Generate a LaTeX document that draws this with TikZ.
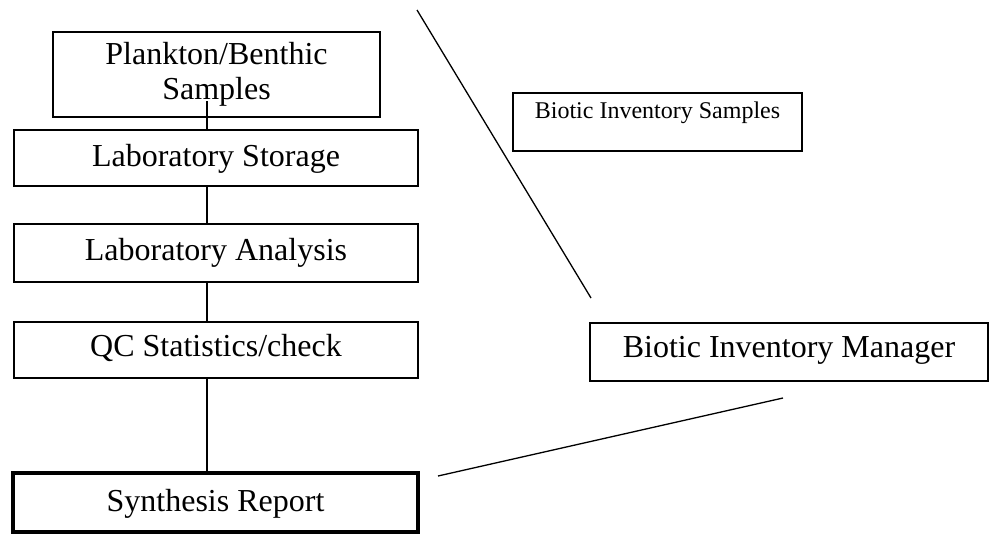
\documentclass[tikz,border=0pt]{standalone}
\usepackage{fontspec}
\setmainfont{Liberation Serif}
\begin{document}
\begin{tikzpicture}[x=1pt,y=-1pt,
    stage/.style={draw, line width=1.3pt, inner sep=0pt, outer sep=0pt, anchor=north west,
      align=center, font=\fontsize{32}{35}\selectfont},
    link/.style={line width=1.3pt}]
    \useasboundingbox (0,0) rectangle (992,533);
    % sample handling chain
    \node[stage, minimum width=327pt, minimum height=85pt] (plank) at (53,32) {Plankton/Benthic\\Samples};
    \node[stage, minimum width=404pt, minimum height=56pt, text height=36pt, text depth=20pt] (store) at (14,130) {Laboratory Storage};
    \node[stage, minimum width=404pt, minimum height=58pt, text height=36pt, text depth=22pt] (anal) at (14,224) {Laboratory Analysis};
    \node[stage, minimum width=404pt, minimum height=56pt, text height=34pt, text depth=22pt] (qc) at (14,322) {QC Statistics/check};
    \node[stage, line width=4.5pt, minimum width=405pt, minimum height=59pt, text height=38pt, text depth=21pt] (synth) at (13,473) {Synthesis Report};
    % biotic inventory side
    \node[stage, font=\fontsize{24}{27}\selectfont, minimum width=289pt, minimum height=58pt, text height=25pt, text depth=33pt] (bisamp) at (513,93) {Biotic Inventory Samples};
    \node[stage, minimum width=398pt, minimum height=58pt, text height=34pt, text depth=24pt] (biman) at (590,323) {Biotic Inventory Manager};
    % connectors
    \coordinate (spine) at (207,101);
    \draw[link] (spine) -- (spine |- store.north);
    \draw[link] (store.south -| spine) -- (anal.north -| spine);
    \draw[link] (anal.south -| spine) -- (qc.north -| spine);
    \draw[link] (qc.south -| spine) -- (synth.north -| spine);
    \coordinate (slashtop) at (417,10);
    \coordinate (slashend) at (591,298);
    \draw[link] (slashtop) -- (slashend);
    \coordinate (repend) at (438,476);
    \coordinate (manend) at (783,398);
    \draw[link] (repend) -- (manend);
\end{tikzpicture}
\end{document}
